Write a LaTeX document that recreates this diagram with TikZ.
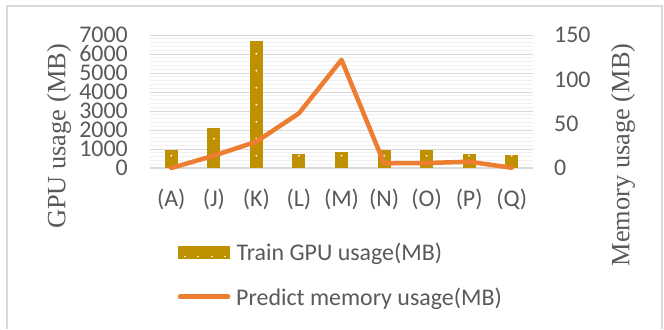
\documentclass[tikz,border=0pt]{standalone}
\usepackage{fontspec}
\setmainfont{Liberation Serif}
\newfontfamily\calib{Carlito}
\definecolor{bargold}{HTML}{BF9000}
\definecolor{lineorange}{HTML}{ED7D31}
\definecolor{txtgray}{HTML}{595959}
\definecolor{majgrid}{HTML}{D9D9D9}
\definecolor{mingrid}{HTML}{F0F0F0}
\definecolor{framegray}{HTML}{D9D9D9}
\tikzset{
  ticklbl/.style={inner sep=0pt, text=txtgray, font=\calib\fontsize{24}{26}\selectfont},
  axtitle/.style={inner sep=0pt, text=txtgray, rotate=90, font=\fontsize{26.5}{30}\selectfont},
  legtext/.style={inner sep=0pt, anchor=base west, text=txtgray, font=\calib\fontsize{24}{26}\selectfont},
  gpubar/.style={fill=bargold, draw=none},
  memline/.style={draw=lineorange, line width=4.5bp, line cap=round, line join=round},
  bardot/.style={fill=white, draw=none},
}
\begin{document}
\begin{tikzpicture}[x=1bp,y=-1bp]
\useasboundingbox (0,0) rectangle (664,329);
% chart frame
\draw[framegray, line width=1.5bp] (7,329) -- (7,6) -- (662,6) -- (662,329);

% plot area: x from 150 to 533, y zero at 168, top (7000 / 150) at 35
\def\yz{168}
\def\yspan{133}
% minor gridlines every 200 MB
\foreach \k in {1,...,34}{
  \pgfmathtruncatemacro{\m}{mod(\k,5)}
  \ifnum\m=0\else
    \draw[mingrid, line width=0.8bp] (150,{\yz-\k*\yspan/35}) -- (533,{\yz-\k*\yspan/35});
  \fi
}
% major gridlines every 1000 MB
\foreach \k in {1,...,7}{
  \draw[majgrid, line width=1bp] (150,{\yz-\k*\yspan/7}) -- (533,{\yz-\k*\yspan/7});
}
\draw[majgrid, line width=1.3bp] (150,\yz) -- (533,\yz);

% primary axis labels
\foreach \v [count=\i from 0] in {0,1000,2000,3000,4000,5000,6000,7000}{
  \node[ticklbl, anchor=east] (gl\i) at (128,{\yz-\i*\yspan/7}) {\v};
}
% secondary axis labels
\foreach \v [count=\i from 0] in {0,50,100,150}{
  \node[ticklbl, anchor=west] (ml\i) at (554,{\yz-\i*\yspan/3}) {\v};
}

% bars and category labels
\foreach \lab/\g [count=\i from 0] in {A/950,J/2120,K/6680,L/720,M/830,N/950,O/950,P/720,Q/680}{
  \pgfmathsetmacro{\xc}{150+42.556*(\i+0.5)}
  \pgfmathsetmacro{\yt}{\yz-\g/7000*\yspan}
  \fill[gpubar] ({\xc-6.5},\yz) rectangle ({\xc+6.5},\yt);
  \pgfmathtruncatemacro{\nd}{floor((\yz-\yt-9)/17)}
  \ifnum\nd<0\else
    \foreach \d in {0,...,\nd}{
      \fill[bardot] (\xc,{155.7-17*\d}) circle (1bp);
    }
  \fi
  \node[ticklbl] (c\lab) at (\xc,199) {(\lab)};
}

% memory line
\foreach \lab/\mv [count=\i from 0] in {A/0,J/13.9,K/29.7,L/61.7,M/122,N/5.3,O/5.6,P/7.1,Q/0.3}{
  \coordinate (p\lab) at ({150+42.556*(\i+0.5)},{\yz-\mv/150*\yspan});
}
\draw[memline] (pA) -- (pJ) -- (pK) -- (pL) -- (pM) -- (pN) -- (pO) -- (pP) -- (pQ);

% axis titles
\node[axtitle] (ytl) at (59,136.5) {GPU usage (MB)};
\node[axtitle] (ytr) at (623,155) {Memory usage (MB)};

% legend
\fill[gpubar] (178,246) rectangle (230,259);
\foreach \xd in {185,198,212,225}{
  \fill[bardot] (\xd,256.5) circle (0.8bp);
}
\node[legtext] (lg1) at (236.5,260) {Train GPU usage(MB)};
\coordinate (ls1) at (180,296.7);
\coordinate (ls2) at (228,296.7);
\draw[memline] (ls1) -- (ls2);
\node[legtext] (lg2) at (236,305.5) {Predict memory usage(MB)};
\end{tikzpicture}
\end{document}
